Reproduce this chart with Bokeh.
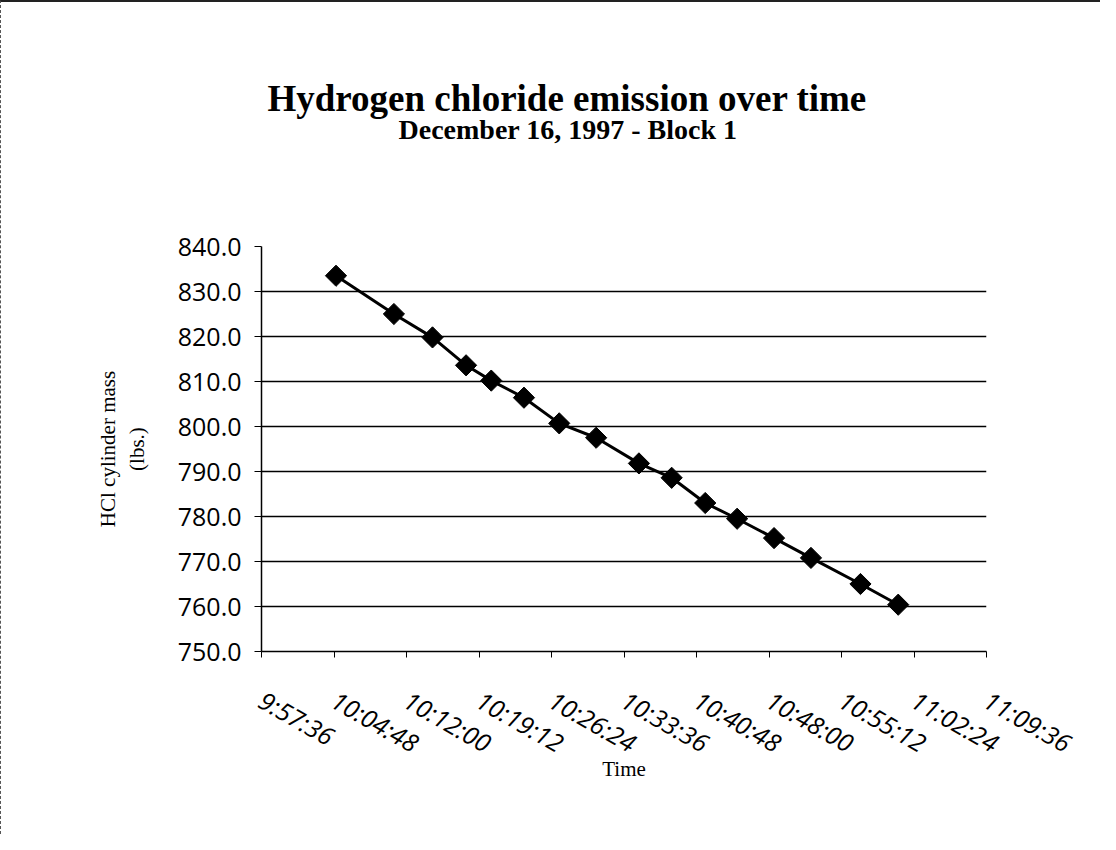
import math
from bokeh.plotting import figure
from bokeh.models import FixedTicker, NumeralTickFormatter, Range1d, Title
from bokeh.embed import file_html
from bokeh.resources import INLINE

# ---- data ----
times = ["10:05:00", "10:10:45", "10:14:35", "10:17:55", "10:20:25", "10:23:40",
         "10:27:10", "10:30:50", "10:35:05", "10:38:20", "10:41:40", "10:44:50",
         "10:48:30", "10:52:10", "10:57:05", "11:00:50"]
mass = [833.5, 825.0, 819.8, 813.6, 810.2, 806.4, 800.7, 797.5, 791.8, 788.6,
        783.0, 779.5, 775.2, 770.8, 765.0, 760.4]
x_tick_labels = ["9:57:36", "10:04:48", "10:12:00", "10:19:12", "10:26:24", "10:33:36",
                 "10:40:48", "10:48:00", "10:55:12", "11:02:24", "11:09:36"]
y_ticks = [750, 760, 770, 780, 790, 800, 810, 820, 830, 840]
title_text = "Hydrogen chloride emission over time"
subtitle_text = "December 16, 1997 - Block 1"
y_title = "HCl cylinder mass\n(lbs.)"
x_title = "Time"


def to_sec(s):
    h, m, sec = map(int, s.split(":"))
    return h * 3600 + m * 60 + sec


xs = [to_sec(t) for t in times]
tick_pos = [to_sec(t) for t in x_tick_labels]

p = figure(frame_width=725, frame_height=405,
           min_border_left=260, min_border_right=114,
           min_border_top=244, min_border_bottom=183,
           output_backend="svg", toolbar_location=None,
           x_range=Range1d(tick_pos[0], tick_pos[-1]),
           y_range=Range1d(y_ticks[0], y_ticks[-1]))
p.background_fill_color = "white"
p.border_fill_color = "white"
p.outline_line_color = None
p.styles = {"border-top": "2px solid #222222", "border-left": "1px dashed #555555"}

# titles: spacer (closest to frame), subtitle, then main title on top
p.add_layout(Title(text=" ", standoff=99, text_font_size="1px"), "above")
p.add_layout(Title(text=subtitle_text, align="left", offset=137, standoff=0,
                   text_font="Liberation Serif", text_font_style="bold",
                   text_font_size="28px", text_color="black"), "above")
p.add_layout(Title(text=title_text, align="left", offset=6, standoff=-14,
                   text_font="Liberation Serif", text_font_style="bold",
                   text_font_size="37px", text_color="black"), "above")

# x axis
p.xaxis.ticker = FixedTicker(ticks=tick_pos)
p.xaxis.major_label_overrides = {tp: lab for tp, lab in zip(tick_pos, x_tick_labels)}
p.xaxis.major_label_orientation = -0.52
p.xaxis.major_label_text_font = "Open Sans"
p.xaxis.major_label_text_font_style = "italic"
p.xaxis.major_label_text_font_size = "25px"
p.xaxis.major_label_text_color = "black"
p.xaxis.major_label_standoff = 40
p.xaxis.major_tick_out = 6
p.xaxis.major_tick_in = 0
p.xaxis.minor_tick_line_color = None
p.xaxis.axis_line_color = "black"
p.xaxis.axis_line_width = 1.5
p.xaxis.major_tick_line_color = "black"
p.xaxis.axis_label = x_title
p.xaxis.axis_label_text_font = "Liberation Serif"
p.xaxis.axis_label_text_font_style = "normal"
p.xaxis.axis_label_text_font_size = "21px"
p.xaxis.axis_label_text_color = "black"
p.xaxis.axis_label_standoff = -20

# y axis
p.yaxis.ticker = FixedTicker(ticks=y_ticks)
p.yaxis.formatter = NumeralTickFormatter(format="0.0")
p.yaxis.major_label_text_font = "Open Sans"
p.yaxis.major_label_text_font_size = "25px"
p.yaxis.major_label_text_color = "black"
p.yaxis.major_label_standoff = 13
p.yaxis.major_tick_out = 7
p.yaxis.major_tick_in = 0
p.yaxis.minor_tick_line_color = None
p.yaxis.axis_line_color = "black"
p.yaxis.axis_line_width = 1.5
p.yaxis.major_tick_line_color = "black"
p.yaxis.axis_label = y_title
p.yaxis.axis_label_text_font = "Liberation Serif"
p.yaxis.axis_label_text_font_style = "normal"
p.yaxis.axis_label_text_font_size = "21px"
p.yaxis.axis_label_text_color = "black"
p.yaxis.axis_label_standoff = 26

# grid
p.xgrid.visible = False
p.ygrid.ticker = FixedTicker(ticks=y_ticks)
p.ygrid.grid_line_color = "black"
p.ygrid.grid_line_width = 1.3
p.ygrid.grid_line_alpha = 1.0

# data
p.line(xs, mass, line_color="black", line_width=3)
p.scatter(xs, mass, marker="square", angle=math.pi / 4, size=15,
          fill_color="black", line_color="black")

open("out.html", "w").write(file_html(p, INLINE))
